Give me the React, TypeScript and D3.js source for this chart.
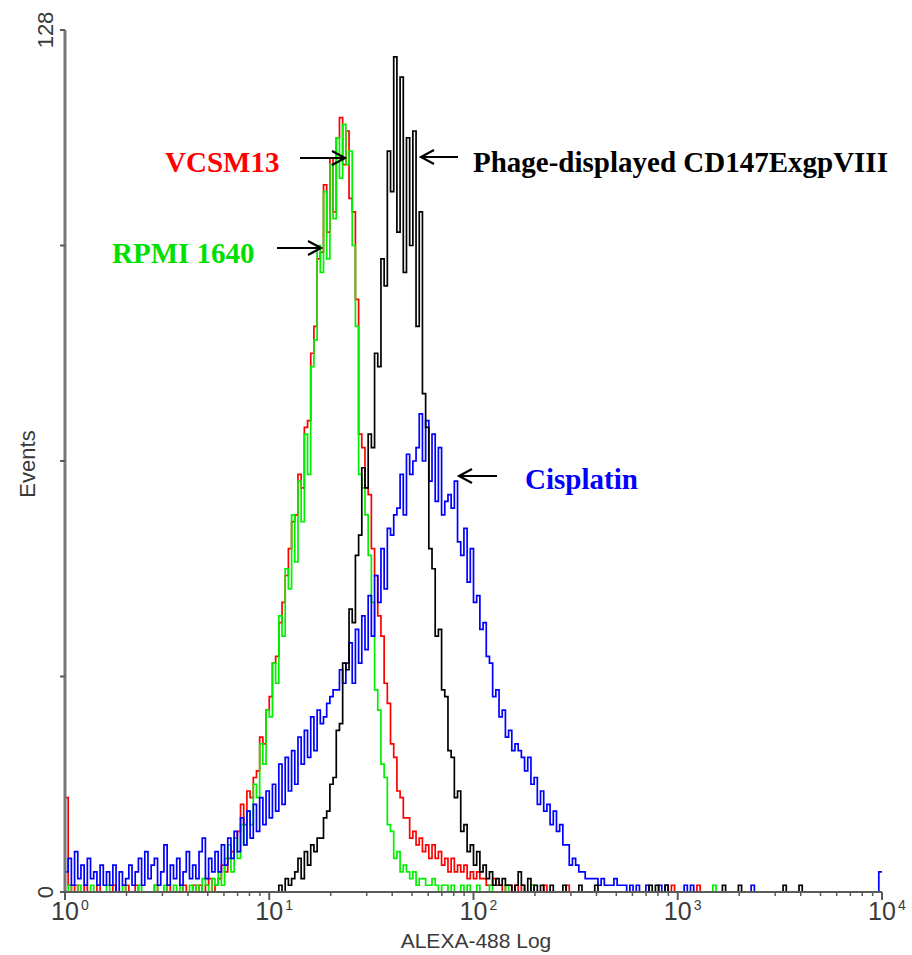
import React from 'react';
import * as d3 from 'd3';

const W = 912;
const H = 955;
const CH_PER_DECADE = 64;
const decades = [0, 1, 2, 3, 4];
const yTicks = [0, 32, 64, 96, 128];
const yTickLabels = ['0', '128'];
const xTitle = 'ALEXA-488 Log';
const yTitle = 'Events';

// Histogram counts per channel (256 channels, 64 per decade)
const vcsm13 = [
  14,1,0,1,0,0,1,0,0,0,1,0,0,0,0,1,
  0,0,0,1,0,0,1,0,0,0,0,0,1,0,0,0,
  1,0,0,0,0,1,0,0,1,0,1,0,1,2,0,1,
  2,4,3,5,6,8,9,13,10,15,14,17,18,23,22,27,
  29,34,35,40,43,47,51,55,56,62,60,69,70,80,84,94,
  95,105,98,109,101,112,115,108,113,103,101,88,68,66,60,59,
  51,47,41,38,31,28,22,20,15,14,11,11,8,9,7,8,
  6,7,5,7,5,6,4,5,3,5,3,4,3,4,2,3,
  2,3,2,2,1,1,2,1,1,0,1,1,0,1,0,1,
  0,0,1,0,0,0,1,0,0,0,0,0,0,1,0,0,
  0,0,0,0,0,0,0,0,0,0,0,0,0,0,0,0,
  0,0,0,0,0,0,0,0,0,0,0,0,0,0,1,0,
  0,0,0,0,0,0,1,0,0,0,0,0,0,0,0,0,
  0,0,0,0,0,0,0,0,0,0,0,0,0,0,0,0,
  0,0,0,0,0,0,0,0,0,0,0,0,0,0,0,0,
  0,0,0,0,0,0,0,0,0,0,0,0,0,0,0,0,
];

const rpmi1640 = [
  0,1,0,0,1,0,0,0,1,0,0,0,0,1,0,0,
  0,0,1,0,0,0,0,1,0,0,0,0,1,0,0,1,
  0,0,1,0,1,0,0,1,0,1,0,2,1,0,2,1,
  3,1,5,7,3,8,5,10,7,12,10,16,14,22,19,27,
  26,34,31,41,38,48,45,56,49,61,55,68,62,78,82,96,
  92,104,94,108,100,112,106,114,108,110,96,84,62,60,56,50,
  43,30,27,19,17,10,9,5,6,3,4,3,2,3,1,2,
  2,1,1,2,1,0,1,1,0,1,0,0,1,0,1,0,
  0,1,0,0,0,1,0,0,0,0,1,0,0,0,0,0,
  0,0,1,0,0,0,0,0,0,0,0,0,0,0,0,0,
  0,0,0,0,0,0,0,0,0,0,0,0,0,0,0,0,
  0,0,0,0,0,0,0,0,0,0,0,0,0,0,0,0,
  0,0,0,0,0,0,0,0,0,0,0,1,0,0,0,0,
  0,0,0,0,0,0,0,0,0,0,0,0,0,0,0,0,
  0,0,0,0,0,0,0,0,0,0,0,0,0,0,0,0,
  0,0,0,0,0,0,0,0,0,0,0,0,0,0,0,0,
];

const phageCD147 = [
  0,0,0,0,0,0,0,0,0,0,0,0,0,0,0,0,
  0,0,0,0,0,0,0,0,0,0,0,0,0,0,0,0,
  0,0,0,0,0,0,0,0,0,0,0,0,0,0,0,0,
  0,0,0,0,0,0,0,0,0,0,0,0,0,0,0,0,
  0,0,0,1,0,2,1,2,3,5,2,6,4,7,6,8,
  8,11,12,16,17,24,25,34,33,42,40,50,53,63,60,68,
  66,80,78,94,90,110,104,124,98,121,92,112,96,113,84,101,
  74,69,51,48,38,39,30,29,21,20,14,15,9,10,6,7,
  4,6,3,4,2,3,1,2,1,2,1,1,0,1,3,1,
  0,2,0,1,0,1,0,0,1,0,0,0,1,0,0,0,
  0,1,0,0,0,0,1,0,0,0,0,0,0,0,0,0,
  0,0,0,0,0,0,0,1,0,1,0,0,1,0,0,0,
  0,0,0,0,0,0,0,0,0,0,0,0,0,0,1,0,
  0,0,0,1,0,0,0,0,0,0,0,0,0,0,0,0,
  0,1,0,0,0,0,1,0,0,0,0,0,0,0,0,0,
  0,0,0,0,0,0,0,0,0,0,0,0,0,0,0,0,
];

const cisplatin = [
  3,5,1,6,2,4,1,5,2,3,1,4,1,3,1,4,
  0,3,1,2,4,1,3,5,1,6,2,4,5,1,3,7,
  1,4,2,5,1,3,6,2,4,2,6,8,2,5,3,6,
  3,7,4,8,5,9,6,11,7,12,8,13,9,14,10,15,
  11,16,12,19,13,20,15,21,16,23,19,24,20,26,21,27,
  25,26,28,29,30,30,33,31,34,37,31,39,34,41,36,44,
  38,47,43,51,45,54,53,56,57,62,56,65,62,64,66,71,
  64,70,61,68,58,66,56,58,59,57,61,52,50,54,46,51,
  43,44,39,40,35,34,29,30,26,27,23,24,21,22,21,20,
  18,20,16,17,13,15,12,13,10,12,9,10,7,7,4,5,
  4,3,3,2,2,2,2,1,2,1,1,1,2,1,1,1,
  0,1,0,1,0,0,1,0,0,0,1,0,1,0,0,0,
  0,0,1,0,1,0,0,0,0,0,0,0,0,0,0,0,
  0,0,0,0,0,0,0,1,0,0,0,0,0,0,0,0,
  0,0,0,0,0,0,0,0,0,0,0,0,0,0,0,0,
  0,0,0,0,0,0,0,0,0,0,0,0,0,0,0,3,
];

const seriesNames = ['VCSM13', 'RPMI 1640', 'Cisplatin', 'Phage-displayed CD147ExgpVIII'];
const seriesColors = ['#ff0000', '#00f000', '#0000ff', '#000000'];
const seriesValues = [vcsm13, rpmi1640, cisplatin, phageCD147];

const M = { left: 65, right: 882, top: 30, bottom: 892 };

export default function App() {
  const x = d3.scaleLog().domain([1, 1e4]).range([M.left, M.right]);
  const y = d3.scaleLinear().domain([0, 128]).range([M.bottom, M.top]);

  const chanVal = (i: number) => Math.pow(10, i / CH_PER_DECADE);

  const line = d3
    .line<[number, number]>()
    .x((d) => x(d[0]))
    .y((d) => y(d[1]))
    .curve(d3.curveStepAfter);

  const paths = seriesValues.map((vals) => {
    const pts: [number, number][] = vals.map((v, i) => [chanVal(i), v]);
    pts.push([chanVal(vals.length), vals[vals.length - 1]]);
    return line(pts) || '';
  });

  const minorTicks: number[] = [];
  for (let d = 0; d < 4; d++) {
    for (let k = 2; k <= 9; k++) minorTicks.push(k * Math.pow(10, d));
  }

  const axisColor = '#5a5a5a';
  const labelColor = '#3a3a3a';
  const sans = 'Liberation Sans, Arial, sans-serif';
  const serif = 'Liberation Serif, Times New Roman, serif';

  const arrow = (x1: number, x2: number, yy: number) => {
    const dir = x2 > x1 ? 1 : -1;
    const hx = x2 - dir * 13;
    return `M${x1},${yy}L${x2},${yy}M${hx},${yy - 7}L${x2},${yy}L${hx},${yy + 7}`;
  };

  return (
    <svg
      width={W}
      height={H}
      style={{ position: 'absolute', left: 0, top: 0, background: '#fff' }}
    >
      <rect x={0} y={0} width={W} height={H} fill="#fff" />
      {/* data */}
      {paths.map((p, i) => (
        <path key={i} d={p} fill="none" stroke={seriesColors[i]} strokeWidth={1.7} />
      ))}

      {/* axes */}
      <line x1={x(1)} x2={x(1)} y1={y(128)} y2={y(0)} stroke="#777" strokeWidth={3} />
      <line x1={x(1)} x2={x(1e4)} y1={y(0)} y2={y(0)} stroke={axisColor} strokeWidth={2} />
      {yTicks.map((t) => (
        <line key={t} x1={x(1) - 5} x2={x(1)} y1={y(t)} y2={y(t)} stroke={axisColor} strokeWidth={2} />
      ))}
      {decades.map((d) => (
        <line
          key={'M' + d}
          x1={x(Math.pow(10, d))}
          x2={x(Math.pow(10, d))}
          y1={y(0)}
          y2={y(0) + 8}
          stroke={axisColor}
          strokeWidth={2}
        />
      ))}
      {minorTicks.map((t) => (
        <line key={'m' + t} x1={x(t)} x2={x(t)} y1={y(0)} y2={y(0) + 4} stroke={axisColor} strokeWidth={1.5} />
      ))}

      {/* y tick labels */}
      {[0, 128].map((t, i) => (
        <text
          key={t}
          transform={`translate(${53},${y(t)}) rotate(-90)`}
          textAnchor="middle"
          fontFamily={sans}
          fontSize={22}
          fill={labelColor}
        >
          {yTickLabels[i]}
        </text>
      ))}

      {/* x tick labels */}
      {decades.map((d) => (
        <g key={'L' + d}>
          <text x={x(Math.pow(10, d))} y={920} textAnchor="middle" fontFamily={sans} fontSize={25} fill={labelColor}>
            10
          </text>
          <text x={x(Math.pow(10, d)) + 16} y={910} textAnchor="start" fontFamily={sans} fontSize={14} fill={labelColor}>
            {String(d)}
          </text>
        </g>
      ))}

      {/* axis titles */}
      <text x={476} y={948} textAnchor="middle" fontFamily={sans} fontSize={21} fill={labelColor}>
        {xTitle}
      </text>
      <text
        transform={`translate(35,464) rotate(-90)`}
        textAnchor="middle"
        fontFamily={sans}
        fontSize={22}
        fill={labelColor}
      >
        {yTitle}
      </text>

      {/* annotations */}
      <text x={165} y={172} fontFamily={serif} fontWeight="bold" fontSize={29} fill="#ff0000">
        {seriesNames[0]}
      </text>
      <text x={112} y={263} fontFamily={serif} fontWeight="bold" fontSize={29} fill="#00e000">
        {seriesNames[1]}
      </text>
      <text x={525} y={489} fontFamily={serif} fontWeight="bold" fontSize={29} fill="#0000ff">
        {seriesNames[2]}
      </text>
      <text x={473} y={172} fontFamily={serif} fontWeight="bold" fontSize={29} fill="#000000">
        {seriesNames[3]}
      </text>
      <g fill="none" stroke="#000" strokeWidth={2.2}>
        <path d={arrow(300, 345, 158)} />
        <path d={arrow(277, 321, 248)} />
        <path d={arrow(458, 421, 157)} />
        <path d={arrow(497, 459, 476)} />
      </g>
    </svg>
  );
}
